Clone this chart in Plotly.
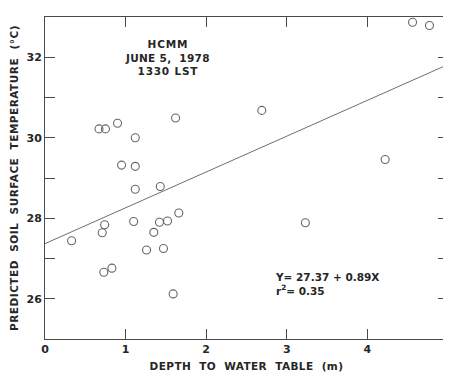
import plotly.graph_objects as go

# Observed data: depth to water table (m) vs predicted soil surface temperature (°C)
depth = [0.33, 0.67, 0.75, 0.90, 0.71, 0.74, 0.73, 0.83, 0.95, 1.12, 1.12, 1.12, 1.10,
         1.26, 1.35, 1.43, 1.42, 1.52, 1.47, 1.66, 1.62, 1.59, 2.69, 3.23, 4.22, 4.56, 4.77]
temp = [27.44, 30.22, 30.22, 30.36, 27.64, 27.84, 26.66, 26.76, 29.32, 30.00, 29.29, 28.72, 27.92,
        27.21, 27.65, 28.79, 27.90, 27.93, 27.25, 28.13, 30.49, 26.12, 30.68, 27.89, 29.46, 32.87, 32.79]

# Regression: Y = 27.37 + 0.89 X
intercept = 27.37
slope = 0.89
fit_x = [0.0, 5.0]
fit_y = [intercept + slope * v for v in fit_x]

x_tickvals = [0, 1, 2, 3, 4]
x_ticktext = ["0", "1", "2", "3", "4"]
y_tickvals = [26, 28, 30, 32]
y_ticktext = ["26", "28", "30", "32"]

ink = "#262626"
axis_col = "#4a4a4a"
font_family = "DejaVu Sans"

def spaced(s, ls=1.0):
    return f'<span style="letter-spacing:{ls}px">{s}</span>'

fig = go.Figure()
fig.add_trace(go.Scatter(x=fit_x, y=fit_y, mode="lines",
                         line=dict(color="#6e6e6e", width=1), showlegend=False,
                         hoverinfo="skip"))
fig.add_trace(go.Scatter(x=depth, y=temp, mode="markers",
                         marker=dict(symbol="circle-open", size=8, color="#666666",
                                     line=dict(width=1.1, color="#666666")),
                         showlegend=False))

fig.add_annotation(x=1.52, y=32.0, xref="x", yref="y",
                   text=spaced("<b>HCMM</b>", 0.8) + "<br>" + spaced("<b>JUNE 5,  1978</b>", 0.3)
                   + "<br>" + spaced("<b>1330 LST</b>", 0.8),
                   showarrow=False, align="center", xanchor="center", yanchor="middle",
                   font=dict(family=font_family, size=10.5, color=ink))
fig.add_annotation(x=2.83, y=26.37, xref="x", yref="y",
                   text="<b>Y= 27.37 + 0.89X</b><br><b>r<sup>2</sup>= 0.35</b>",
                   showarrow=False, align="left", xanchor="left", yanchor="middle",
                   font=dict(family=font_family, size=10.5, color=ink))

axis_common = dict(showgrid=False, zeroline=False, showline=True, linecolor=axis_col,
                   linewidth=1, mirror="ticks", ticks="inside", ticklen=10,
                   tickcolor=axis_col, tickwidth=1,
                   tickfont=dict(family=font_family, size=11, color=ink, weight="bold"))

fig.update_xaxes(range=[0, 5], tickmode="array", tickvals=x_tickvals, ticktext=x_ticktext,
                 title=dict(text=spaced("<b>DEPTH  TO  WATER  TABLE  (m)</b>", 0.4),
                            font=dict(family=font_family, size=10.5, color=ink), standoff=16),
                 **axis_common)
fig.update_yaxes(range=[25, 33], tickmode="array", tickvals=y_tickvals, ticktext=y_ticktext,
                 minor=dict(dtick=1, tick0=25, ticks="inside", ticklen=10,
                            tickcolor=axis_col, tickwidth=1),
                 title=dict(text=spaced("<b>PREDICTED  SOIL  SURFACE  TEMPERATURE  (°C)</b>", 0.5),
                            font=dict(family=font_family, size=10.5, color=ink), standoff=5),
                 **axis_common)

# The page body has an 8 px default margin, so the figure is sized to fit the window.
fig.update_layout(width=443, height=364,
                  margin=dict(l=37, r=3, t=9, b=33, autoexpand=False),
                  paper_bgcolor="#ffffff", plot_bgcolor="#ffffff",
                  font=dict(family=font_family, color=ink))

fig.write_html("out.html")
